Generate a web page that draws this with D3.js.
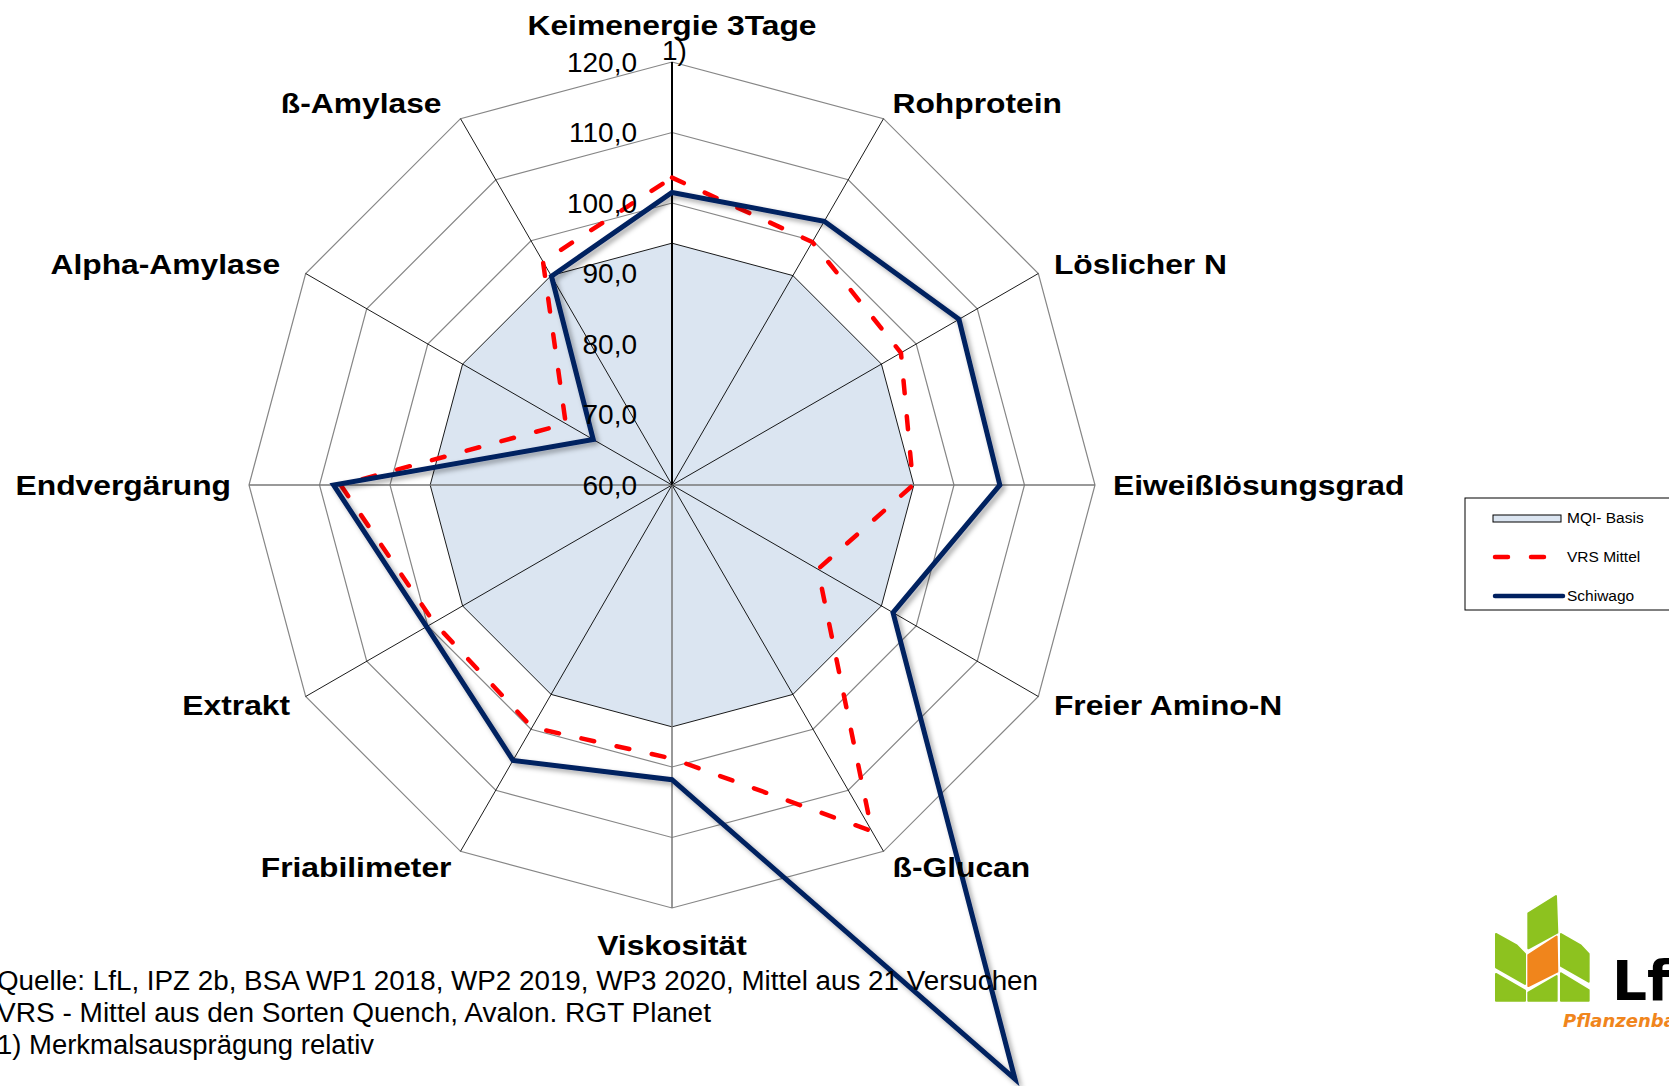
<!DOCTYPE html>
<html>
<head>
<meta charset="utf-8">
<script src="https://cdn.jsdelivr.net/npm/d3@7"></script>
<style>
  body { margin: 0; background: #fff; overflow: hidden; }
  svg { display: block; font-family: "Liberation Sans", Arial, sans-serif; }
</style>
</head>
<body>
<svg width="1669" height="1086"></svg>
<script>
// Merkmale, im Uhrzeigersinn ab oben
let categories = ["Keimenergie 3Tage", "Rohprotein", "Löslicher N", "Eiweißlösungsgrad",
  "Freier Amino-N", "ß-Glucan", "Viskosität", "Friabilimeter", "Extrakt",
  "Endvergärung", "Alpha-Amylase", "ß-Amylase"];

let mqiBasis = [94.3, 94.3, 94.3, 94.3, 94.3, 94.3, 94.3, 94.3, 94.3, 94.3, 94.3, 94.3];
let vrsMittel = [103.6, 99.8, 97.5, 94.2, 83.9, 116.7, 98.8, 99.7, 99.0, 107.0, 77.4, 96.6];
let schiwago = [101.5, 103.2, 107.0, 106.5, 96.2, 157.3, 101.8, 105.1, 100.2, 108.0, 72.9, 94.2];

let tickValues = [60, 70, 80, 90, 100, 110, 120];
let tickLabels = ["60,0", "70,0", "80,0", "90,0", "100,0", "110,0", "120,0"];

let seriesNames = ["MQI- Basis", "VRS Mittel", "Schiwago"];
let footnotes = [
  "Quelle: LfL, IPZ 2b, BSA WP1 2018, WP2 2019, WP3 2020, Mittel aus 21 Versuchen",
  "VRS - Mittel aus den Sorten Quench, Avalon. RGT Planet",
  "1) Merkmalsausprägung relativ"
];

let svg = d3.select("svg"),
  cx = 672,
  cy = 485,
  R = 423;

let r = d3.scaleLinear().domain([60, 120]).range([0, R]);
let angle = d3.scaleLinear().domain([0, categories.length]).range([0, 2 * Math.PI]);

function pt(i, v) {
  let a = angle(i);
  return [cx + r(v) * Math.sin(a), cy - r(v) * Math.cos(a)];
}

let defs = svg.append("defs");
let shadow = defs.append("filter").attr("id", "shadow")
  .attr("x", "-20%").attr("y", "-20%").attr("width", "140%").attr("height", "140%");
shadow.append("feDropShadow")
  .attr("dx", 3).attr("dy", 3).attr("stdDeviation", 2.5)
  .attr("flood-color", "#000").attr("flood-opacity", 0.35);

let g = svg.append("g");

let closed = d3.line().curve(d3.curveLinearClosed);

// Gitterringe (werden von der MQI-Fläche überdeckt)
g.selectAll("path.ring")
  .data(tickValues.slice(1))
  .enter()
  .append("path")
  .attr("class", "ring")
  .attr("d", function (t) {
    return closed(categories.map(function (c, i) { return pt(i, t); }));
  })
  .attr("fill", "none")
  .attr("stroke", "#868686")
  .attr("stroke-width", 1.2);

// MQI Basis Fläche
g.append("path")
  .attr("d", closed(mqiBasis.map(function (v, i) { return pt(i, v); })))
  .attr("fill", "#dbe5f1")
  .attr("stroke", "#000")
  .attr("stroke-width", 0.9);

// Speichen
g.selectAll("line.spoke")
  .data(categories)
  .enter()
  .append("line")
  .attr("class", "spoke")
  .attr("x1", cx)
  .attr("y1", cy)
  .attr("x2", function (d, i) { return pt(i, 120)[0]; })
  .attr("y2", function (d, i) { return pt(i, 120)[1]; })
  .attr("stroke", function (d, i) { return i % 3 === 0 && i !== 0 ? "#777" : "#000"; })
  .attr("stroke-width", function (d, i) { return i === 0 ? 2 : (i % 3 === 0 ? 1.5 : 0.9); });

// VRS Mittel
g.append("path")
  .attr("d", closed(vrsMittel.map(function (v, i) { return pt(i, v); })))
  .attr("fill", "none")
  .attr("stroke", "#ff0000")
  .attr("stroke-width", 4.5)
  .attr("stroke-linecap", "round")
  .attr("stroke-dasharray", "13,23");

// Schiwago
g.append("path")
  .attr("d", closed(schiwago.map(function (v, i) { return pt(i, v); })))
  .attr("fill", "none")
  .attr("stroke", "#002060")
  .attr("stroke-width", 5)
  .attr("stroke-linejoin", "miter")
  .attr("stroke-miterlimit", 10)
  .attr("filter", "url(#shadow)");

// Achsenbeschriftung
g.selectAll("text.tick")
  .data(tickValues)
  .enter()
  .append("text")
  .attr("class", "tick")
  .attr("x", cx - 35)
  .attr("y", function (t) { return cy - r(t); })
  .attr("dy", "0.35em")
  .attr("text-anchor", "end")
  .attr("font-size", 28)
  .attr("fill", "#000")
  .text(function (t, i) { return tickLabels[i]; });

g.append("text")
  .attr("x", cx - 10)
  .attr("y", cy - r(120) - 2)
  .attr("font-size", 28)
  .text("1)");

// Kategorienamen (etwas breit gezogen wie im Original)
g.selectAll("text.cat")
  .data(categories)
  .enter()
  .append("text")
  .attr("class", "cat")
  .attr("x", function (d, i) {
    let a = angle(i);
    let shift = (Math.sin(a) < -0.1 && Math.cos(a) > 0.1) ? -10 : 0;
    return cx + (R + 18) * Math.sin(a) + shift;
  })
  .attr("y", function (d, i) {
    let c = Math.cos(angle(i));
    let off = Math.abs(c) > 0.99 ? 37 : 18;
    return cy - (R + off) * c;
  })
  .attr("dy", "0.35em")
  .attr("text-anchor", function (d, i) {
    let s = Math.sin(angle(i));
    return s > 0.1 ? "start" : s < -0.1 ? "end" : "middle";
  })
  .attr("font-size", 28.5)
  .attr("font-weight", "bold")
  .text(function (d) { return d; })
  .each(function () {
    let len = this.getComputedTextLength();
    d3.select(this)
      .attr("textLength", len * 1.115)
      .attr("lengthAdjust", "spacingAndGlyphs");
  });

// Legende
let legend = svg.append("g").attr("transform", "translate(1465,498)");
legend.append("rect")
  .attr("width", 230).attr("height", 112)
  .attr("fill", "#fff").attr("stroke", "#000").attr("stroke-width", 1);

let ly = d3.scalePoint().domain(seriesNames).range([20, 98]);

legend.append("rect")
  .attr("x", 28).attr("y", ly("MQI- Basis") - 3)
  .attr("width", 68).attr("height", 7)
  .attr("fill", "#dbe5f1").attr("stroke", "#000").attr("stroke-width", 1);
legend.append("line")
  .attr("x1", 30).attr("x2", 96)
  .attr("y1", ly("VRS Mittel")).attr("y2", ly("VRS Mittel"))
  .attr("stroke", "#ff0000").attr("stroke-width", 4.5)
  .attr("stroke-linecap", "round").attr("stroke-dasharray", "13,23");
legend.append("line")
  .attr("x1", 30).attr("x2", 98)
  .attr("y1", ly("Schiwago")).attr("y2", ly("Schiwago"))
  .attr("stroke", "#002060").attr("stroke-width", 4.5)
  .attr("stroke-linecap", "round");

legend.selectAll("text")
  .data(seriesNames)
  .enter()
  .append("text")
  .attr("x", 102)
  .attr("y", function (d) { return ly(d); })
  .attr("dy", "0.35em")
  .attr("font-size", 15.5)
  .text(function (d) { return d; });

// Fußnoten
let footWidths = [1041, 714, 377];
svg.selectAll("text.foot")
  .data(footnotes)
  .enter()
  .append("text")
  .attr("class", "foot")
  .attr("x", -3)
  .attr("y", function (d, i) { return 990 + i * 32; })
  .attr("font-family", "'Liberation Sans Narrow', 'Arial Narrow', 'Liberation Sans', sans-serif")
  .attr("font-size", 27)
  .attr("textLength", function (d, i) { return footWidths[i]; })
  .attr("lengthAdjust", "spacingAndGlyphs")
  .text(function (d) { return d; });

// Logo
let logo = svg.append("g").attr("transform", "translate(1450,880) scale(0.3333)");
let green = "#8dc21f", orange = "#f0851c";
let leaves = [
  { c: green, p: [[138, 162], [200, 196], [225, 222], [225, 312], [138, 262]] },
  { c: green, p: [[138, 282], [225, 332], [225, 362], [138, 362]] },
  { c: green, p: [[235, 100], [318, 48], [322, 158], [235, 205]] },
  { c: orange, p: [[235, 225], [320, 170], [322, 275], [235, 318]] },
  { c: green, p: [[235, 338], [320, 288], [320, 362], [235, 362]] },
  { c: green, p: [[333, 162], [392, 196], [416, 222], [416, 305], [333, 258]] },
  { c: green, p: [[333, 280], [416, 330], [416, 362], [333, 362]] }
];
logo.selectAll("path")
  .data(leaves)
  .enter()
  .append("path")
  .attr("d", function (d) { return closed(d.p); })
  .attr("fill", function (d) { return d.c; })
  .attr("stroke", function (d) { return d.c; })
  .attr("stroke-width", 6)
  .attr("stroke-linejoin", "round");

svg.append("text")
  .attr("x", 1612).attr("y", 1000)
  .attr("font-family", "'DejaVu Sans', sans-serif")
  .attr("font-weight", "bold")
  .attr("font-size", 55)
  .attr("fill", "#000")
  .text("LfL");

svg.append("text")
  .attr("x", 1563).attr("y", 1027)
  .attr("font-family", "'DejaVu Sans', sans-serif")
  .attr("font-weight", "bold")
  .attr("font-style", "italic")
  .attr("font-size", 18)
  .attr("fill", orange)
  .text("Pflanzenbau");
</script>
</body>
</html>
